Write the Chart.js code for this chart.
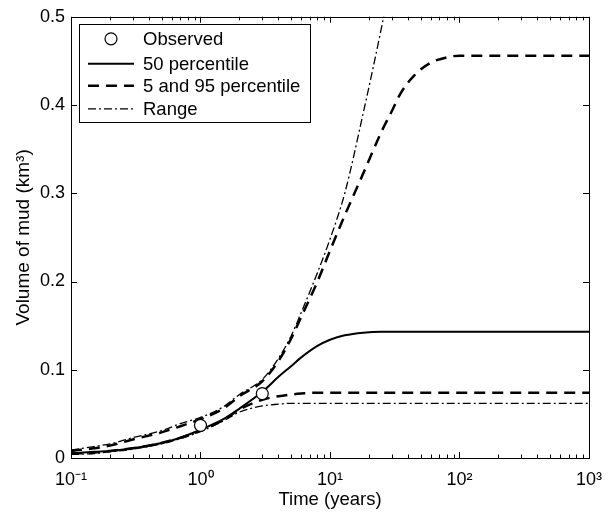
<!DOCTYPE html>
<html>
<head>
<meta charset="utf-8">
<script src="https://cdn.jsdelivr.net/npm/chart.js@4"></script>
<style>body{margin:0;background:#fff}</style>
</head>
<body>
<canvas id="chart" width="613" height="514"></canvas>
<script>
// time in years, shared by the model curves
const times = [0.1, 0.15, 0.2, 0.3, 0.5, 0.7, 1, 1.5, 2, 3, 4, 5, 6, 8, 10, 13, 18, 25, 30, 35, 45, 60, 80, 100, 200, 1000];

const p50 = [0.005, 0.007, 0.008, 0.011, 0.017, 0.023, 0.032, 0.044, 0.056, 0.075, 0.092, 0.104, 0.114, 0.127, 0.134, 0.139, 0.142, 0.143, 0.143, 0.143, 0.143, 0.143, 0.143, 0.143, 0.143, 0.143];
const p95 = [0.008, 0.011, 0.014, 0.021, 0.029, 0.036, 0.044, 0.056, 0.070, 0.087, 0.110, 0.135, 0.160, 0.200, 0.235, 0.275, 0.322, 0.370, 0.393, 0.413, 0.434, 0.448, 0.454, 0.456, 0.456, 0.456];
const p5 = [0.005, 0.006, 0.008, 0.011, 0.017, 0.023, 0.031, 0.043, 0.055, 0.066, 0.070, 0.072, 0.073, 0.074, 0.074, 0.074, 0.074, 0.074, 0.074, 0.074, 0.074, 0.074, 0.074, 0.074, 0.074, 0.074];
const rangeMax = [0.009, 0.013, 0.016, 0.023, 0.031, 0.039, 0.046, 0.058, 0.072, 0.089, 0.113, 0.138, 0.165, 0.210, 0.248, 0.300, 0.390, 0.488, 0.548, null, null, null, null, null, null, null];
const rangeMin = [0.004, 0.005, 0.007, 0.010, 0.016, 0.022, 0.030, 0.042, 0.052, 0.059, 0.061, 0.062, 0.062, 0.062, 0.062, 0.062, 0.062, 0.062, 0.062, 0.062, 0.062, 0.062, 0.062, 0.062, 0.062, 0.062];

const obsTimes = [1, 3];
const obsValues = [0.037, 0.073];

const xMajor = [0.1, 1, 10, 100, 1000];
const xTickLabels = ['10⁻¹', '10⁰', '10¹', '10²', '10³'];
const yTicks = [0, 0.1, 0.2, 0.3, 0.4, 0.5];
const yTickLabels = ['0', '0.1', '0.2', '0.3', '0.4', '0.5'];
const legendLabels = ['Observed', '50 percentile', '5 and 95 percentile', 'Range'];

const FONT = '"Liberation Sans", Arial, Helvetica, sans-serif';

// all log ticks: 1..9 times each decade
const xTickValues = [];
xMajor.slice(0, -1).forEach(d => {
    for (let m = 1; m < 10; m++) xTickValues.push(m * d);
});
xTickValues.push(xMajor[xMajor.length - 1]);

const pts = (xs, ys) => xs.map((t, i) => ({x: t, y: ys[i]}));

const solid = {borderColor: '#000', borderWidth: 2, pointRadius: 0, fill: false, cubicInterpolationMode: 'monotone'};
const dashed = {borderColor: '#000', borderWidth: 2.5, borderDash: [11, 7], pointRadius: 0, fill: false, cubicInterpolationMode: 'monotone'};
const dashDot = {borderColor: '#000', borderWidth: 1.3, borderDash: [8, 3, 2, 3], pointRadius: 0, fill: false, cubicInterpolationMode: 'monotone'};

const datasets = [
    {label: legendLabels[0], data: pts(obsTimes, obsValues), showLine: false,
        pointRadius: 6, pointBackgroundColor: '#fff', pointBorderColor: '#000', pointBorderWidth: 1.2},
    {label: legendLabels[1], data: pts(times, p50), ...solid},
    {label: legendLabels[2], data: pts(times, p95), ...dashed},
    {label: '', data: pts(times, p5), ...dashed},
    {label: legendLabels[3], data: pts(times, rangeMax), ...dashDot},
    {label: '', data: pts(times, rangeMin), ...dashDot}
];

// matlab style box, inward ticks and the legend box
const matlabAxes = {
    id: 'matlabAxes',
    afterDatasetsDraw(chart) {
        const {ctx, chartArea: a, scales: {x, y}} = chart;
        ctx.save();
        ctx.strokeStyle = '#000';
        ctx.lineWidth = 1;
        ctx.setLineDash([]);
        ctx.beginPath();
        x.ticks.forEach(t => {
            const px = Math.round(x.getPixelForValue(t.value)) + 0.5;
            const len = xMajor.some(v => Math.abs(v - t.value) < 1e-9) ? 6 : 3.5;
            ctx.moveTo(px, a.bottom); ctx.lineTo(px, a.bottom - len);
            ctx.moveTo(px, a.top); ctx.lineTo(px, a.top + len);
        });
        y.ticks.forEach(t => {
            const py = Math.round(y.getPixelForValue(t.value)) + 0.5;
            ctx.moveTo(a.left, py); ctx.lineTo(a.left + 6, py);
            ctx.moveTo(a.right, py); ctx.lineTo(a.right - 6, py);
        });
        ctx.stroke();
        ctx.strokeRect(Math.round(a.left) + 0.5, Math.round(a.top) + 0.5,
            Math.round(a.right - a.left), Math.round(a.bottom - a.top));

        // legend
        const bx = a.left + 8, by = a.top + 7, bw = 231, bh = 98;
        ctx.fillStyle = '#fff';
        ctx.fillRect(bx, by, bw, bh);
        ctx.strokeRect(Math.round(bx) + 0.5, Math.round(by) + 0.5, bw, bh);
        const rows = [
            {ds: 0, y: by + 15},
            {ds: 1, y: by + 40},
            {ds: 2, y: by + 62},
            {ds: 4, y: by + 85}
        ];
        const x0 = bx + 9, x1 = bx + 55, tx = bx + 64;
        ctx.font = '18.5px ' + FONT;
        ctx.textBaseline = 'middle';
        ctx.textAlign = 'left';
        rows.forEach(r => {
            const d = chart.data.datasets[r.ds];
            if (r.ds === 0) {
                ctx.beginPath();
                ctx.arc((x0 + x1) / 2, r.y, d.pointRadius, 0, Math.PI * 2);
                ctx.fillStyle = d.pointBackgroundColor;
                ctx.fill();
                ctx.lineWidth = d.pointBorderWidth;
                ctx.strokeStyle = d.pointBorderColor;
                ctx.stroke();
            } else {
                ctx.beginPath();
                ctx.setLineDash(d.borderDash || []);
                ctx.lineWidth = d.borderWidth;
                ctx.strokeStyle = d.borderColor;
                ctx.moveTo(x0, r.y);
                ctx.lineTo(x1, r.y);
                ctx.stroke();
                ctx.setLineDash([]);
            }
            ctx.fillStyle = '#000';
            ctx.fillText(d.label, tx, r.y + 1);
        });
        ctx.restore();
    }
};

new Chart(document.querySelector('#chart').getContext('2d'), {
    type: 'line',
    data: {datasets},
    options: {
        responsive: false,
        animation: false,
        layout: {padding: {top: 15, right: 14, left: 0, bottom: 0}},
        plugins: {legend: {display: false}, tooltip: {enabled: false}},
        scales: {
            x: {
                type: 'logarithmic',
                min: 0.1,
                max: 1000,
                afterBuildTicks: s => { s.ticks = xTickValues.map(v => ({value: v})); },
                afterFit: s => { s.height = 56; },
                grid: {display: false, drawTicks: false},
                border: {display: false},
                ticks: {
                    autoSkip: false, maxRotation: 0, padding: 11, color: '#000',
                    font: {family: FONT, size: 18},
                    callback: v => {
                        const i = xMajor.findIndex(m => Math.abs(m - v) < 1e-9);
                        return i >= 0 ? xTickLabels[i] : '';
                    }
                },
                title: {display: true, text: 'Time (years)', color: '#000',
                    font: {family: FONT, size: 18.5}, padding: {top: 0, bottom: 3}}
            },
            y: {
                type: 'linear',
                min: 0,
                max: 0.5,
                afterBuildTicks: s => { s.ticks = yTicks.map(v => ({value: v})); },
                afterFit: s => { s.width = 71; },
                grid: {display: false, drawTicks: false},
                border: {display: false},
                ticks: {
                    padding: 6, color: '#000',
                    font: {family: FONT, size: 18},
                    callback: (v, i) => yTickLabels[i]
                },
                title: {display: true, text: 'Volume of mud (km³)', color: '#000',
                    font: {family: FONT, size: 19}, padding: {top: 12, bottom: 0}}
            }
        }
    },
    plugins: [matlabAxes]
});
</script>
</body>
</html>
